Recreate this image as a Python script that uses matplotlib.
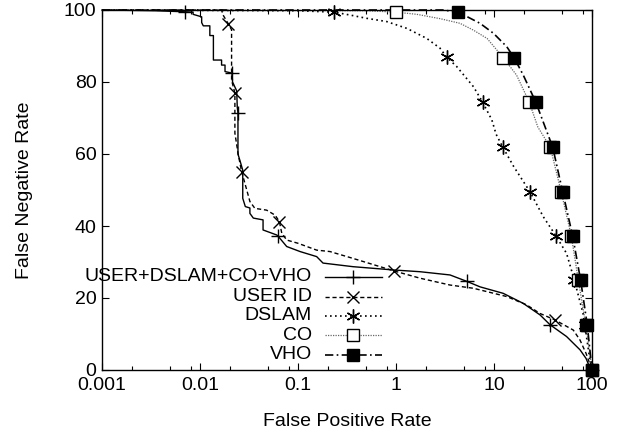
import matplotlib
matplotlib.use("Agg")
import matplotlib.pyplot as plt
from matplotlib.ticker import FixedLocator, FixedFormatter
import numpy as np

plt.rcParams['font.family'] = ['Liberation Sans', 'DejaVu Sans']

# ---------------- data ----------------
all_x = [0.001, 0.0035, 0.007, 0.0085, 0.0085, 0.0104, 0.0104, 0.0108, 0.0126, 0.0126,
         0.0137, 0.0137, 0.0166, 0.0166, 0.018, 0.018, 0.0202, 0.0212, 0.0215, 0.0237,
         0.0240, 0.0244, 0.0244, 0.0260, 0.0273, 0.0273, 0.029, 0.0323, 0.0323, 0.035,
         0.044, 0.044, 0.0607, 0.0625, 0.0767, 0.105, 0.155, 0.18, 0.364, 0.93, 1.76,
         3.56, 5.3, 7.2, 12.4, 19.9, 29.5, 37.2, 55, 75.5, 87, 95.5, 100]
all_y = [100, 99.8, 99.5, 99.4, 98.8, 98.1, 96.5, 95.6, 95.6, 92.9,
         92.9, 86.1, 86.1, 84.7, 84.7, 82.9, 82.6, 82.4, 80, 77.5,
         73, 71.4, 60, 57.5, 55.5, 47.7, 45.4, 45, 43.5, 42.2,
         41.7, 38.9, 37.5, 37.2, 34.3, 32.9, 31.5, 29.7, 28.7, 27.8, 27.3,
         26.4, 24.6, 23.1, 21.3, 18.5, 15.3, 12.6, 9.3, 5.6, 3.2, 0.5, 0]
all_mx = [0.007, 0.0212, 0.0244, 0.0625, 5.3, 37.2, 100]
all_my = [99.5, 82.4, 71.4, 37.2, 24.6, 12.6, 0]

uid_x = [0.001, 0.0166, 0.0172, 0.0195, 0.021, 0.021, 0.0227, 0.0227, 0.0245, 0.0266,
         0.030, 0.0323, 0.0363, 0.0479, 0.0585, 0.0646, 0.0683, 0.0767, 0.100, 0.155,
         0.212, 0.364, 0.96, 1.76, 3.56, 6.17, 13.5, 21.5, 29.5, 41.9, 64.4, 75.5, 87, 100]
uid_y = [100, 100, 98.6, 96.1, 94.5, 80.5, 76.9, 65.8, 60, 55.1,
         50, 46.8, 44.9, 44.4, 43, 41.2, 38, 36.1, 35.2, 33.3,
         32.9, 31, 27.5, 25.5, 23.6, 22.7, 20.4, 18.1, 15.7, 13.9, 11.1, 8.3, 4.6, 0]
uid_mx = [0.0195, 0.0227, 0.0266, 0.0646, 0.96, 41.9, 100]
uid_my = [96.1, 76.9, 55.1, 41.2, 27.5, 13.9, 0]

dslam_x = [0.001, 0.1, 0.234, 0.34, 0.50, 0.80, 1.29, 2.06, 2.81, 3.29, 4.16, 6.17, 7.65,
           9.5, 10.5, 12.3, 15.9, 23.3, 31.8, 43, 55, 66, 81, 84.5, 93, 100]
dslam_y = [100, 99.8, 99.4, 98.6, 97.7, 96.8, 94.9, 92.1, 89.4, 86.9, 84.3, 78.7, 74.4,
           69.5, 65.5, 61.9, 56.5, 49.5, 42.6, 37.2, 32.4, 25, 15.7, 12.5, 4.6, 0]
dslam_mx = [0.234, 3.29, 7.65, 12.3, 23.3, 43, 66, 84.5, 100]
dslam_my = [99.4, 86.9, 74.4, 61.9, 49.5, 37.2, 25, 12.5, 0]

co_x = [0.001, 0.5, 1.0, 1.63, 2.81, 4.5, 6.17, 8.5, 12.4, 17, 22.9, 28, 37.5, 48.5,
        61.5, 72.5, 86.5, 100]
co_y = [100, 99.8, 99.4, 98.8, 97.6, 96.3, 94.4, 92.1, 86.8, 81.9, 74.4, 67.5, 61.9, 49.5,
        37.2, 25, 12.5, 0]
co_mx = [1.0, 12.4, 22.9, 37.5, 48.5, 61.5, 72.5, 86.5, 100]
co_my = [99.4, 86.8, 74.4, 61.9, 49.5, 37.2, 25, 12.5, 0]

vho_x = [0.001, 3.0, 4.33, 7.2, 9.9, 13.5, 16, 19.9, 26.7, 39.7, 50.2, 63.5, 76.5, 89.5, 100]
vho_y = [100, 100, 99.4, 96.3, 93.5, 89.8, 86.8, 81.9, 74.4, 61.9, 49.5, 37.2, 25, 12.5, 0]
vho_mx = [4.33, 16, 26.7, 39.7, 50.2, 63.5, 76.5, 89.5, 100]
vho_my = [99.4, 86.8, 74.4, 61.9, 49.5, 37.2, 25, 12.5, 0]

labels = ["USER+DSLAM+CO+VHO", "USER ID", "DSLAM", "CO", "VHO"]
xtick_vals = [0.001, 0.01, 0.1, 1, 10, 100]
xtick_labels = ["0.001", "0.01", "0.1", "1", "10", "100"]
ytick_vals = [0, 20, 40, 60, 80, 100]

FS = 14

# ---------------- figure ----------------
fig = plt.figure(figsize=(6.29, 4.37), dpi=100)
ax = fig.add_axes([102/629, 1-370/437, 490/629, 360/437])

styles = [
    dict(color='black', ls='-', lw=1.0, marker='+', ms=10, mew=1.0, mfc='none', mec='black'),
    dict(color='black', ls=(0, (3, 2)), lw=1.0, marker='x', ms=8.5, mew=1.0, mfc='none', mec='black'),
    dict(color='black', ls=(0, (1, 2)), lw=1.2, marker=(6, 2, 0), ms=10, mew=1.0, mfc='none', mec='black'),
    dict(color='#666666', ls=(0, (1, 1)), lw=0.9, marker='s', ms=8.5, mew=1.0, mfc='white', mec='black'),
    dict(color='black', ls=(0, (5, 2, 1, 2)), lw=1.2, marker='s', ms=8.5, mew=1.0, mfc='black', mec='black'),
]
series = [(all_x, all_y, all_mx, all_my), (uid_x, uid_y, uid_mx, uid_my),
          (dslam_x, dslam_y, dslam_mx, dslam_my), (co_x, co_y, co_mx, co_my),
          (vho_x, vho_y, vho_mx, vho_my)]

for (x, y, mx, my), st in zip(series, styles):
    ax.plot(x, y, color=st['color'], ls=st['ls'], lw=st['lw'], clip_on=False, zorder=2)
    ax.plot(mx, my, ls='none', marker=st['marker'], ms=st['ms'], mew=st['mew'],
            mfc=st['mfc'], mec=st['mec'], clip_on=False, zorder=3)

ax.set_xscale('log')
ax.set_xlim(0.001, 100)
ax.set_ylim(0, 100)

ax.xaxis.set_major_locator(FixedLocator(xtick_vals))
ax.xaxis.set_major_formatter(FixedFormatter(xtick_labels))
minors = []
for d in [0.001, 0.01, 0.1, 1, 10]:
    for m in [2, 5, 8]:
        minors.append(d * m)
ax.xaxis.set_minor_locator(FixedLocator(minors))
ax.xaxis.set_minor_formatter(FixedFormatter([""] * len(minors)))
ax.set_yticks(ytick_vals)
ax.set_yticklabels([str(v) for v in ytick_vals])

ax.tick_params(which='major', direction='in', length=5, width=0.8, top=True, right=True,
               labelsize=FS, pad=5)
ax.tick_params(which='minor', direction='in', length=3, width=0.8, top=True, right=True)
ax.tick_params(axis='y', pad=4)
for sp in ax.spines.values():
    sp.set_linewidth(1.0)

ax.set_xlabel("False Positive Rate", fontsize=FS, labelpad=14)
ax.set_ylabel("False Negative Rate", fontsize=FS, labelpad=22)

# gnuplot-style key: right-aligned text, sample line to the right
row_y = [0.259, 0.204, 0.150, 0.097, 0.042]
for lab, st, yy in zip(labels, styles, row_y):
    ax.text(0.4286, yy, lab, transform=ax.transAxes, ha='right', va='center',
            fontsize=FS, zorder=5)
    ax.plot([0.455, 0.571], [yy, yy], transform=ax.transAxes, color=st['color'],
            ls=st['ls'], lw=st['lw'], clip_on=False, zorder=5)
    ax.plot([0.512], [yy], transform=ax.transAxes, ls='none', marker=st['marker'],
            ms=st['ms'], mew=st['mew'], mfc=st['mfc'], mec=st['mec'], clip_on=False, zorder=5)

fig.savefig("out.png", dpi=100)
